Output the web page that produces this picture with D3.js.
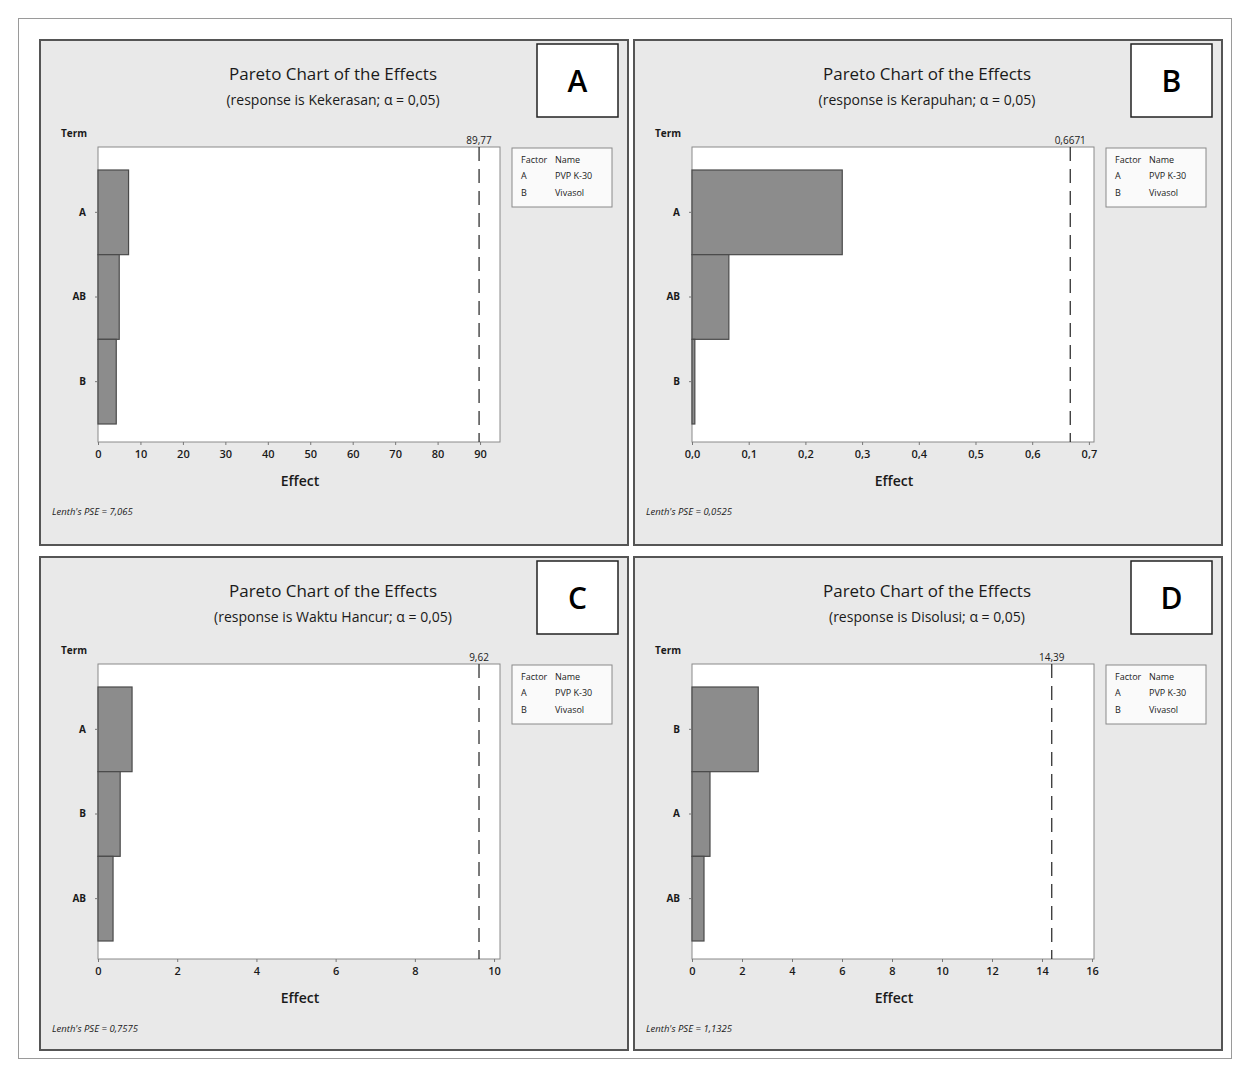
<!DOCTYPE html>
<html>
<head>
<meta charset="utf-8">
<script src="https://cdn.jsdelivr.net/npm/d3@7"></script>
<style>
  html, body { margin: 0; padding: 0; background: #ffffff; }
  svg { display: block; }
  text { font-family: "Open Sans", "Noto Sans", sans-serif; fill: #1a1a1a; }
</style>
</head>
<body>
<svg id="chart" width="1241" height="1068"></svg>
<script>
// Pareto charts of standardized effects for four tablet responses
const panelLetters = ["A", "B", "C", "D"];
const responses = ["Kekerasan", "Kerapuhan", "Waktu Hancur", "Disolusi"];

// terms in Pareto order (largest effect first) and their effects
const termsA = ["A", "AB", "B"];
const effectsA = [7.2, 5.0, 4.3];
const termsB = ["A", "AB", "B"];
const effectsB = [0.265, 0.065, 0.005];
const termsC = ["A", "B", "AB"];
const effectsC = [0.86, 0.56, 0.38];
const termsD = ["B", "A", "AB"];
const effectsD = [2.65, 0.72, 0.48];

// critical effect (reference line) and Lenth's pseudo standard error
const criticalValues = [89.77, 0.6671, 9.62, 14.39];
const criticalLabels = ["89,77", "0,6671", "9,62", "14,39"];
const pseLabels = ["7,065", "0,0525", "0,7575", "1,1325"];

// x-axis extents and tick values
const xMax = [94.7, 0.709, 10.15, 16.08];
const ticksA = [0, 10, 20, 30, 40, 50, 60, 70, 80, 90];
const ticksB = [0, 0.1, 0.2, 0.3, 0.4, 0.5, 0.6, 0.7];
const ticksC = [0, 2, 4, 6, 8, 10];
const ticksD = [0, 2, 4, 6, 8, 10, 12, 14, 16];
const tickDecimals = [0, 1, 0, 0];

// factor legend
const factorCodes = ["A", "B"];
const factorNames = ["PVP K-30", "Vivasol"];

const allTerms = [termsA, termsB, termsC, termsD];
const allEffects = [effectsA, effectsB, effectsC, effectsD];
const allTicks = [ticksA, ticksB, ticksC, ticksD];

const locale = d3.formatLocale({ decimal: ",", thousands: ".", grouping: [3], currency: ["", ""] });

const svg = d3.select("#chart");

// outer frame
svg.append("rect")
  .attr("x", 18.5).attr("y", 18.5).attr("width", 1213).attr("height", 1040)
  .attr("fill", "none").attr("stroke", "#9a9a9a").attr("stroke-width", 1);

const panelX = [40, 634, 40, 634];
const panelY = [40, 40, 557, 557];
const panelW = 588;
const panelH = [505, 505, 493, 493];

panelLetters.forEach((letter, i) => {
  const g = svg.append("g").attr("transform", `translate(${panelX[i]},${panelY[i]})`);

  g.append("rect")
    .attr("x", 0).attr("y", 0).attr("width", panelW).attr("height", panelH[i])
    .attr("fill", "#e9e9e9").attr("stroke", "#555").attr("stroke-width", 2);

  // titles
  g.append("text").attr("x", 293).attr("y", 40).attr("text-anchor", "middle")
    .style("font-size", "17px").attr("textLength", 208).attr("lengthAdjust", "spacingAndGlyphs")
    .text("Pareto Chart of the Effects");
  g.append("text").attr("x", 293).attr("y", 65).attr("text-anchor", "middle")
    .style("font-size", "14px")
    .text(`(response is ${responses[i]}; α = 0,05)`);

  // panel letter box
  g.append("rect").attr("x", 497).attr("y", 4).attr("width", 81).attr("height", 73)
    .attr("fill", "#fff").attr("stroke", "#222").attr("stroke-width", 1.5);
  g.append("text").attr("x", 537.5).attr("y", 52).attr("text-anchor", "middle")
    .style("font-size", "30px").style("font-weight", "600").style("fill", "#000")
    .text(letter);

  g.append("text").attr("x", 21).attr("y", 97)
    .style("font-size", "10px").style("font-weight", "700")
    .text("Term");

  // plot area
  const left = 58, right = 460, top = 107, bottom = 402;
  g.append("rect").attr("x", left).attr("y", top).attr("width", right - left).attr("height", bottom - top)
    .attr("fill", "#fff").attr("stroke", "#8a8a8a").attr("stroke-width", 1);

  const x = d3.scaleLinear().domain([0, xMax[i]]).range([left, right]);
  const y = d3.scaleBand().domain(allTerms[i]).range([130, 384]).padding(0);

  const data = allTerms[i].map((t, k) => ({ term: t, effect: allEffects[i][k] }));

  g.selectAll("rect.bar").data(data).enter().append("rect")
    .attr("class", "bar")
    .attr("x", x(0))
    .attr("y", d => y(d.term))
    .attr("width", d => x(d.effect) - x(0))
    .attr("height", y.bandwidth())
    .attr("fill", "#8c8c8c").attr("stroke", "#4a4a4a").attr("stroke-width", 1.2);

  // term axis
  const yAxis = d3.axisLeft(y).tickSize(3).tickPadding(9);
  const ya = g.append("g").attr("transform", `translate(${left},0)`).call(yAxis);
  ya.select(".domain").remove();
  ya.selectAll("line").attr("stroke", "#777");
  ya.selectAll("text").style("font-size", "10px").style("font-weight", "700")
    .style("font-family", "'Open Sans', sans-serif").attr("fill", "#1a1a1a");

  // effect axis
  const fmt = locale.format(`.${tickDecimals[i]}f`);
  const xAxis = d3.axisBottom(x).tickValues(allTicks[i]).tickFormat(fmt).tickSize(3).tickPadding(5);
  const xa = g.append("g").attr("transform", `translate(0,${bottom})`).call(xAxis);
  xa.select(".domain").remove();
  xa.selectAll("line").attr("stroke", "#777");
  xa.selectAll("text").style("font-size", "11px").style("font-weight", "600")
    .style("font-family", "'Open Sans', sans-serif").attr("fill", "#1a1a1a");

  g.append("text").attr("x", 260).attr("y", 446).attr("text-anchor", "middle")
    .style("font-size", "14px").style("font-weight", "600").text("Effect");

  // critical effect reference line
  g.append("line")
    .attr("x1", x(criticalValues[i])).attr("x2", x(criticalValues[i]))
    .attr("y1", top).attr("y2", bottom)
    .attr("stroke", "#222").attr("stroke-width", 1.2).attr("stroke-dasharray", "14,8");
  g.append("text").attr("x", x(criticalValues[i])).attr("y", 104).attr("text-anchor", "middle")
    .style("font-size", "10px").text(criticalLabels[i]);

  // Lenth's PSE
  g.append("text").attr("x", 12).attr("y", 475)
    .style("font-size", "9.5px").style("font-style", "italic")
    .text(`Lenth's PSE = ${pseLabels[i]}`);

  // factor legend
  const lg = g.append("g").attr("transform", "translate(472,108)");
  lg.append("rect").attr("width", 100).attr("height", 59)
    .attr("fill", "#fafafa").attr("stroke", "#8a8a8a").attr("stroke-width", 1);
  lg.append("text").attr("x", 9).attr("y", 15).style("font-size", "9px").text("Factor");
  lg.append("text").attr("x", 43).attr("y", 15).style("font-size", "9px").text("Name");
  factorCodes.forEach((c, k) => {
    lg.append("text").attr("x", 9).attr("y", 31 + k * 17).style("font-size", "9px").text(c);
    lg.append("text").attr("x", 43).attr("y", 31 + k * 17).style("font-size", "9px").text(factorNames[k]);
  });
});
</script>
</body>
</html>
